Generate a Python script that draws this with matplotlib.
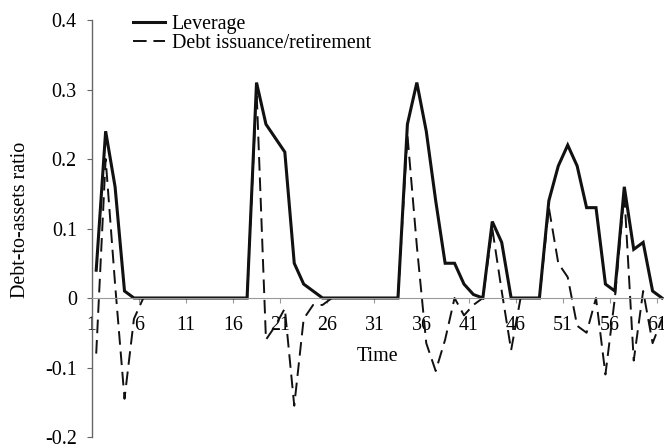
import numpy as np
import matplotlib
matplotlib.use("Agg")
import matplotlib.pyplot as plt

plt.rcParams['font.family'] = ['Liberation Serif', 'DejaVu Serif']
plt.rcParams['font.size'] = 14.4
plt.rcParams['axes.unicode_minus'] = False

# Dữ liệu (61 kỳ)
periods = np.arange(1, 62)
leverage = [0.04, 0.24, 0.16, 0.01, 0.0,
            0, 0, 0, 0, 0, 0, 0, 0, 0, 0, 0, 0,
            0.31, 0.25, 0.23, 0.21, 0.05, 0.02, 0.01, 0.0,
            0, 0, 0, 0, 0, 0, 0, 0,
            0.25, 0.31, 0.24, 0.14, 0.05, 0.05, 0.02, 0.005, 0.0,
            0.11, 0.08, 0.0, 0.0, 0.0, 0.0,
            0.14, 0.19, 0.22, 0.19, 0.13, 0.13, 0.02, 0.01,
            0.16, 0.07, 0.08, 0.01, 0.0]
debt_issuance = [-0.08, 0.20, 0.02, -0.145, -0.03,
                 0, 0, 0, 0, 0, 0, 0, 0, 0, 0, 0, 0,
                 0.30, -0.06, -0.04, -0.015, -0.155, -0.03, -0.01, -0.01,
                 0, 0, 0, 0, 0, 0, 0, 0,
                 0.235, 0.075, -0.065, -0.105, -0.06, 0.0, -0.025, -0.01, 0.0,
                 0.10, 0.01, -0.075, 0.0, 0.0, 0.0,
                 0.13, 0.05, 0.03, -0.04, -0.05, 0.0, -0.11, 0.0,
                 0.15, -0.09, 0.01, -0.065, -0.03]

x_ticks = [1, 6, 11, 16, 21, 26, 31, 36, 41, 46, 51, 56, 61]
x_tick_labels = [str(t) for t in x_ticks]
y_ticks = [-0.2, -0.1, 0.0, 0.1, 0.2, 0.3, 0.4]
y_tick_labels = ['-0.2', '-0.1', '0', '0.1', '0.2', '0.3', '0.4']

fig = plt.figure(figsize=(6.64, 4.44), dpi=100)
ax = fig.add_axes([91.5 / 664, 7 / 444, 572.5 / 664, 417 / 444])

# điểm dữ liệu nằm giữa các vạch
xpos = periods + 0.5
ax.plot(xpos, leverage, color='#111111', lw=2.2, label='Leverage',
        solid_joinstyle='miter')
ax.plot(xpos, debt_issuance, color='#111111', lw=1.4, dashes=(7, 3.5),
        label='Debt issuance/retirement')

ax.set_xlim(1, 1 + 572.5 / 9.43)
ax.set_ylim(-0.2, 0.4)

ax.spines['top'].set_visible(False)
ax.spines['right'].set_visible(False)
ax.spines['bottom'].set_position(('data', 0))
ax.spines['bottom'].set_color('#999999')
ax.spines['left'].set_color('#666666')
ax.spines['left'].set_linewidth(1.0)

ax.set_xticks(x_ticks)
ax.set_xticklabels(x_tick_labels)
ax.set_yticks(y_ticks)
ax.set_yticklabels(y_tick_labels)
ax.tick_params(axis='x', direction='out', length=3.6, color='#999999', pad=9.5)
ax.tick_params(axis='y', direction='out', length=3.6, color='#666666', pad=7)

ax.set_xlabel('Time')
ax.xaxis.set_label_coords(0.5, 0.215)
ax.set_ylabel('Debt-to-assets ratio')
ax.yaxis.set_label_coords(-0.107, 0.52)

ax.legend(loc='upper left', bbox_to_anchor=(0.0717, 1.011), frameon=False,
          borderpad=0, borderaxespad=0, handlelength=1.6, handletextpad=0.36,
          labelspacing=0.0)

fig.savefig('out.png', dpi=100)
